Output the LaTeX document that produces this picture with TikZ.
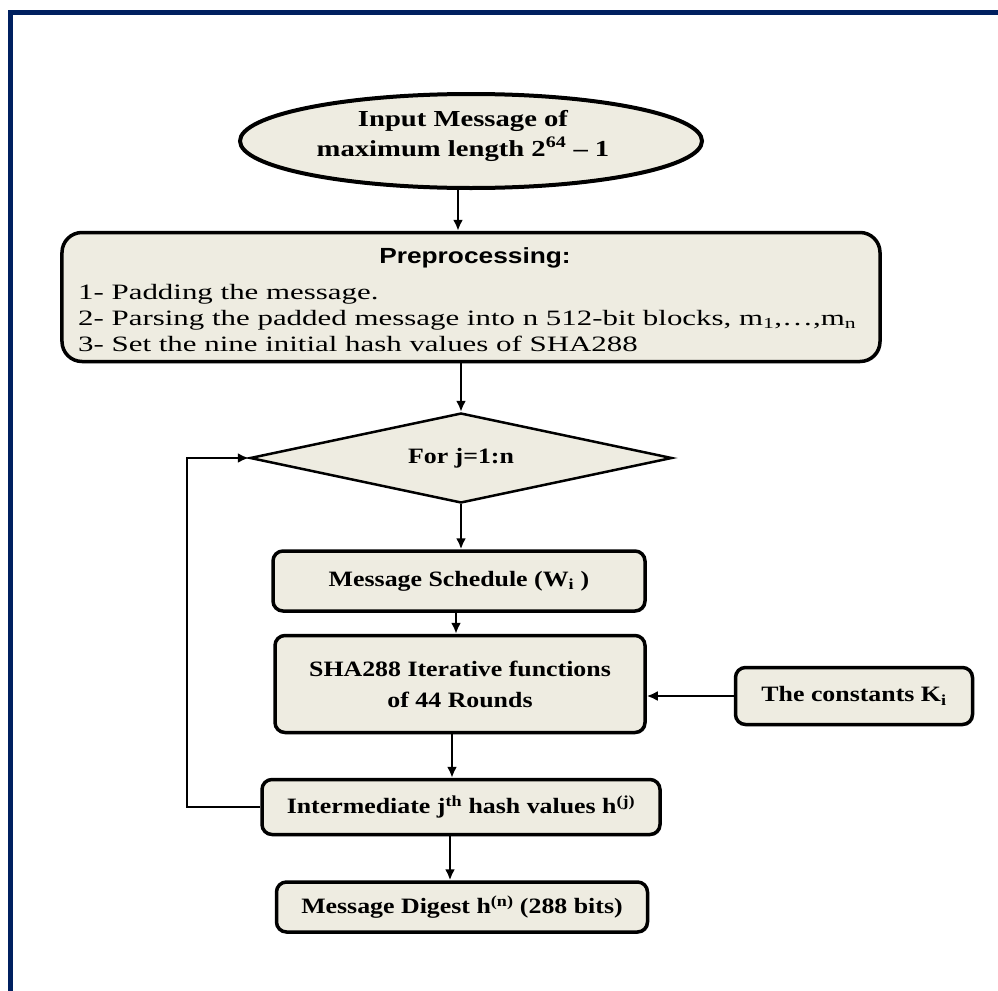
\documentclass[tikz,border=0pt]{standalone}
\usepackage{fontspec}
\setmainfont{Liberation Serif}
\newfontfamily\boxfont[FakeStretch=1.18,Ligatures=TeX]{Liberation Serif}
\newfontfamily\ellfont[FakeStretch=1.25,Ligatures=TeX]{Liberation Serif}
\newfontfamily\listfont[FakeStretch=1.41,Ligatures=TeX]{Liberation Serif}
\newfontfamily\titlefont[FakeStretch=1.2]{Liberation Sans}
\usetikzlibrary{shapes.geometric,arrows.meta,shadows}
\definecolor{navy}{RGB}{0,32,96}
\definecolor{boxfill}{RGB}{238,236,225}
\tikzset{
  boxstyle/.style={draw=black, line width=3.5bp, fill=boxfill, rounded corners=10bp,
    inner sep=0pt, align=center, font=\boxfont\fontsize{22}{31}\selectfont\bfseries,
    drop shadow={shadow xshift=1.5bp, shadow yshift=-1.5bp, fill=black!40}},
  conn/.style={line width=2.5bp, -{Latex[length=11bp,width=10bp]}}
}
\begin{document}
\begin{tikzpicture}[x=1bp,y=-1bp]
\useasboundingbox (0,0) rectangle (998,991);
% page border
\fill[navy] (8,10) rectangle (998,15);
\fill[navy] (8,10) rectangle (13,991);
% nodes
\node[ellipse, draw=black, line width=4bp, fill=boxfill, minimum width=462bp, minimum height=94bp,
  inner sep=0pt, drop shadow={shadow xshift=1.5bp, shadow yshift=-1.5bp, fill=black!40}]
  (input) at (471,141) {};
\node[align=center, inner sep=0pt, font=\ellfont\fontsize{23}{30}\selectfont\bfseries] (inputtext) at (463,136)
  {Input Message of\\maximum length 2\textsuperscript{64} – 1};
\node[boxstyle, rounded corners=20bp, minimum width=818bp, minimum height=129bp] (pre) at (471,297) {};
\node[font=\titlefont\fontsize{22}{26}\selectfont\bfseries] (pretitle) at (475,258) {Preprocessing:};
\node[anchor=west, inner sep=0pt, align=left, font=\listfont\fontsize{22}{26}\selectfont] (prelist) at (78,318)
  {1- Padding the message.\\
   2- Parsing the padded message into n 512-bit blocks, m\textsubscript{1},\ldots,m\textsubscript{n}\\
   3- Set the nine initial hash values of SHA288};
\node[diamond, draw=black, line width=2.5bp, fill=boxfill, minimum width=422bp, minimum height=90bp,
  aspect=4.5, inner sep=0pt, font=\boxfont\fontsize{22}{26}\selectfont\bfseries] (loop) at (461,458) {For j=1:n};
\node[boxstyle, minimum width=372bp, minimum height=60bp] (sched) at (459,581) {Message Schedule (W\textsubscript{i} )};
\node[boxstyle, minimum width=370bp, minimum height=97bp] (sha) at (460,684) {SHA288 Iterative functions\\of 44 Rounds};
\node[boxstyle, minimum width=237bp, minimum height=57bp] (const) at (854,696) {The constants K\textsubscript{i}};
\node[boxstyle, minimum width=398bp, minimum height=55bp] (inter) at (461,807) {Intermediate j\textsuperscript{th} hash values h\textsuperscript{(j)}};
\node[boxstyle, minimum width=371bp, minimum height=50bp] (digest) at (462,907) {Message Digest h\textsuperscript{(n)} (288 bits)};
% connectors
\draw[conn] (input.south -| 458,0) -- (pre.north -| 458,0);
\draw[conn] (pre.south -| loop.north) -- (loop.north);
\draw[conn] (loop.south) -- (sched.north -| loop.south);
\draw[conn] (sched.south -| 456,0) -- (sha.north -| 456,0);
\draw[conn] (const.west) -- (sha.east |- const.west);
\draw[conn] (sha.south -| 452,0) -- (inter.north -| 452,0);
\draw[conn] (inter.south -| 450,0) -- (digest.north -| 450,0);
\coordinate (fbB) at (187,807);
\coordinate (fbT) at (187,458);
\draw[conn] (inter.west) -- (fbB) -- (fbT) -- (loop.west);
\end{tikzpicture}
\end{document}
